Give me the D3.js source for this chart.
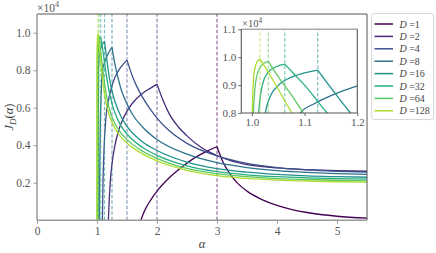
<!DOCTYPE html>
<html><head><meta charset="utf-8">
<script src="https://cdn.jsdelivr.net/npm/d3@7"></script>
<style>
html,body{margin:0;padding:0;background:#fff;}
svg text{font-family:"Liberation Serif","DejaVu Serif",serif;}
</style></head>
<body><svg id="c" width="436" height="253"></svg>
<script>
// ---- data (values ×10^4) ----
const Ds = [1, 2, 4, 8, 16, 32, 64, 128];
const peakAlpha = [3, 2, 1.5, 1.25, 1.125, 1.0625, 1.03125, 1.015625];
const xTicks = [0, 1, 2, 3, 4, 5];
const yTicks = [0.2, 0.4, 0.6, 0.8, 1.0];
const insetXTicks = [1.0, 1.1, 1.2];
const insetYTicks = [0.8, 0.9, 1.0, 1.1];

const J1 = [[1.73,0],[1.76,0.025],[1.8,0.055],[1.9,0.11],[2.0,0.155],[2.2,0.225],[2.4,0.28],[2.6,0.327],[2.8,0.363],[3.0,0.392],
  [3.1,0.31],[3.2,0.255],[3.35,0.195],[3.5,0.155],[3.75,0.11],[4.0,0.079],[4.25,0.057],[4.5,0.041],[5.0,0.021],[5.5,0.011]];
const J2 = [[1.19,0],[1.2,0.08],[1.22,0.2],[1.25,0.3],[1.3,0.4],[1.35,0.468],[1.4,0.515],[1.5,0.582],[1.6,0.628],[1.75,0.675],[1.9,0.706],[2.0,0.726],
  [2.1,0.64],[2.2,0.57],[2.35,0.5],[2.5,0.45],[2.75,0.385],[3.0,0.345],[3.25,0.315],[3.5,0.297],[4.0,0.279],[4.5,0.27],[5.0,0.264],[5.5,0.261]];
const J4 = [[1.09,0],[1.1,0.2],[1.12,0.4],[1.15,0.55],[1.2,0.655],[1.25,0.718],[1.3,0.762],[1.4,0.818],[1.5,0.854],
  [1.6,0.76],[1.7,0.69],[1.85,0.61],[2.0,0.545],[2.2,0.478],[2.5,0.41],[3.0,0.343],[3.5,0.303],[4.0,0.281],[4.5,0.268],[5.0,0.261],[5.5,0.257]];
const J8 = [[1.04,0],[1.045,0.25],[1.055,0.5],[1.07,0.68],[1.092,0.8],[1.12,0.835],[1.15,0.862],[1.2,0.897],[1.25,0.922],
  [1.3,0.83],[1.35,0.76],[1.4,0.70],[1.5,0.62],[1.6,0.56],[1.75,0.50],[2.0,0.43],[2.5,0.352],[3.0,0.307],[3.5,0.281],[4.0,0.265],[4.5,0.255],[5.0,0.248],[5.5,0.244]];
const J16 = [[1.018,0],[1.02,0.4],[1.023,0.65],[1.0255,0.8],[1.035,0.86],[1.05,0.898],[1.08,0.932],[1.1,0.944],[1.125,0.954],
  [1.15,0.89],[1.187,0.80],[1.2,0.772],[1.25,0.69],[1.3,0.632],[1.4,0.553],[1.5,0.50],[1.75,0.42],[2.0,0.372],[2.5,0.31],[3.0,0.275],[3.5,0.256],[4.0,0.244],[4.5,0.236],[5.0,0.232],[5.5,0.229]];
const J32 = [[1.008,0],[1.01,0.5],[1.013,0.8],[1.02,0.9],[1.03,0.944],[1.045,0.965],[1.0625,0.975],
  [1.08,0.94],[1.1,0.9],[1.143,0.80],[1.17,0.745],[1.2,0.69],[1.25,0.622],[1.3,0.572],[1.4,0.503],[1.5,0.46],[1.75,0.39],[2.0,0.346],[2.5,0.29],[3.0,0.259],[3.5,0.242],[4.0,0.232],[4.5,0.226],[5.0,0.222],[5.5,0.219]];
const J64 = [[1.001,0],[1.002,0.5],[1.003,0.8],[1.008,0.92],[1.015,0.962],[1.023,0.978],[1.03125,0.985],
  [1.05,0.93],[1.075,0.865],[1.098,0.80],[1.13,0.72],[1.17,0.645],[1.2,0.60],[1.3,0.515],[1.4,0.465],[1.5,0.43],[1.75,0.37],[2.0,0.33],[2.5,0.276],[3.0,0.248],[3.5,0.232],[4.0,0.222],[4.5,0.217],[5.0,0.213],[5.5,0.21]];
const J128 = [[1.0,0],[1.0003,0.5],[1.0008,0.8],[1.004,0.94],[1.008,0.975],[1.012,0.988],[1.015625,0.993],
  [1.03,0.95],[1.05,0.885],[1.076,0.80],[1.1,0.73],[1.15,0.63],[1.2,0.565],[1.3,0.49],[1.4,0.443],[1.5,0.41],[1.75,0.355],[2.0,0.316],[2.5,0.266],[3.0,0.238],[3.5,0.223],[4.0,0.214],[4.5,0.209],[5.0,0.205],[5.5,0.203]];
const curves = [J1, J2, J4, J8, J16, J32, J64, J128];

// ---- layout ----
const svg = d3.select("#c");
const M = {l:37, r:367, t:14, b:220.2};
const x = d3.scaleLinear().domain([0, 5.5]).range([M.l, M.r]);
const y = d3.scaleLinear().domain([0, 1.1]).range([M.b, M.t]);
const I = {l:241.3, r:357.3, t:29.3, b:113};
const xi = d3.scaleLinear().domain([0.98, 1.2]).range([I.l, I.r]);
const yi = d3.scaleLinear().domain([0.8, 1.1]).range([I.b, I.t]);
const color = i => d3.interpolateViridis(i / 8);
const tickCol = "#555", lblCol = "#444";

const defs = svg.append("defs");
defs.append("clipPath").attr("id","cm").append("rect").attr("x",M.l).attr("y",M.t).attr("width",M.r-M.l).attr("height",M.b-M.t);
defs.append("clipPath").attr("id","ci").append("rect").attr("x",I.l).attr("y",I.t).attr("width",I.r-I.l).attr("height",I.b-I.t);

function drawSeries(g, sx, sy, y0, y1) {
  curves.forEach((pts, i) => {
    const k = pts.findIndex(p => p[0] === peakAlpha[i]);
    const line = d3.line().x(p => sx(p[0])).y(p => sy(p[1])).curve(d3.curveMonotoneX);
    [pts.slice(0, k + 1), pts.slice(k)].forEach(seg => {
      g.append("path").attr("d", line(seg)).attr("fill","none")
        .attr("stroke", color(i)).attr("stroke-width", 1.3);
    });
    g.append("line").attr("x1", sx(peakAlpha[i])).attr("x2", sx(peakAlpha[i]))
      .attr("y1", y0).attr("y2", y1).attr("stroke", color(i)).attr("stroke-opacity", 0.6)
      .attr("stroke-width", 1.2).attr("stroke-dasharray", "3.5,2");
  });
}

// main series
const gm = svg.append("g").attr("clip-path","url(#cm)");
drawSeries(gm, x, y, M.b, M.t);

// main axes
const ax = svg.append("g").attr("transform",`translate(0,${M.b})`)
  .call(d3.axisBottom(x).tickValues(xTicks).tickSize(3.5).tickPadding(3).tickFormat(d3.format("d")));
const ay = svg.append("g").attr("transform",`translate(${M.l},0)`)
  .call(d3.axisLeft(y).tickValues(yTicks).tickSize(3.5).tickPadding(3).tickFormat(d3.format(".1f")));
[ax, ay].forEach(a => {
  a.select(".domain").remove();
  a.selectAll(".tick line").attr("stroke", "#999").attr("stroke-width", 1);
  a.selectAll(".tick text").attr("fill", tickCol).style("font-size","11.5px").style("font-family",'"Liberation Serif",serif');
});
// spines
svg.append("line").attr("x1",M.l).attr("x2",M.r).attr("y1",M.t).attr("y2",M.t).attr("stroke","#555").attr("stroke-width",1);
svg.append("line").attr("x1",M.r).attr("x2",M.r).attr("y1",M.t).attr("y2",M.b).attr("stroke","#555").attr("stroke-width",1);
svg.append("line").attr("x1",M.l).attr("x2",M.l).attr("y1",M.t).attr("y2",M.b).attr("stroke","#999").attr("stroke-width",1.5);
svg.append("line").attr("x1",M.l).attr("x2",M.r).attr("y1",M.b).attr("y2",M.b).attr("stroke","#999").attr("stroke-width",1.5);

// multiplier labels
function mult(g, xx, yy, fs) {
  const t = g.append("text").attr("x",xx).attr("y",yy).attr("fill",tickCol).style("font-size",fs+"px");
  t.append("tspan").text("×10");
  t.append("tspan").attr("dy",-fs*0.4).style("font-size",(fs*0.7)+"px").text("4");
}
mult(svg, 37, 11.5, 11.5);

// axis labels
svg.append("text").attr("x", (M.l+M.r)/2).attr("y", 248).attr("text-anchor","middle")
  .attr("fill", lblCol).style("font-size","12.5px").style("font-style","italic").text("α");
const yl = svg.append("text").attr("transform","translate(13,117) rotate(-90)").attr("text-anchor","middle")
  .attr("fill", lblCol).style("font-size","12.5px");
yl.append("tspan").style("font-style","italic").text("J");
yl.append("tspan").attr("dy",3).style("font-size","9px").style("font-style","italic").text("D");
yl.append("tspan").attr("dy",-3).text("(");
yl.append("tspan").style("font-style","italic").text("α");
yl.append("tspan").text(")");

// ---- inset ----
svg.append("rect").attr("x",I.l).attr("y",I.t).attr("width",I.r-I.l).attr("height",I.b-I.t).attr("fill","#fff");
const gi = svg.append("g").attr("clip-path","url(#ci)");
drawSeries(gi, xi, yi, I.b, I.t);
const ixa = svg.append("g").attr("transform",`translate(0,${I.b})`)
  .call(d3.axisBottom(xi).tickValues(insetXTicks).tickSize(3).tickPadding(2).tickFormat(d3.format(".1f")));
const iya = svg.append("g").attr("transform",`translate(${I.l},0)`)
  .call(d3.axisLeft(yi).tickValues(insetYTicks).tickSize(3).tickPadding(2).tickFormat(d3.format(".1f")));
[ixa, iya].forEach(a => {
  a.select(".domain").remove();
  a.selectAll(".tick line").attr("stroke", "#666");
  a.selectAll(".tick text").attr("fill", tickCol).style("font-size","11px").style("font-family",'"Liberation Serif",serif');
});
svg.append("line").attr("x1",I.l).attr("x2",I.r).attr("y1",I.t).attr("y2",I.t).attr("stroke","#aaa").attr("stroke-width",1.6);
svg.append("line").attr("x1",I.l).attr("x2",I.l).attr("y1",I.t).attr("y2",I.b).attr("stroke","#555").attr("stroke-width",1.1);
svg.append("line").attr("x1",I.r).attr("x2",I.r).attr("y1",I.t).attr("y2",I.b).attr("stroke","#555").attr("stroke-width",1.1);
svg.append("line").attr("x1",I.l).attr("x2",I.r).attr("y1",I.b).attr("y2",I.b).attr("stroke","#555").attr("stroke-width",1.1);
mult(svg, 242, 27, 10.5);

// ---- legend ----
const lg = svg.append("g");
lg.append("rect").attr("x",371.7).attr("y",13.5).attr("width",62).attr("height",106).attr("rx",2)
  .attr("fill","#fff").attr("stroke","#ccc").attr("stroke-width",0.8);
Ds.forEach((d, i) => {
  const yy = 24 + i * 12.4;
  lg.append("line").attr("x1",374.5).attr("x2",393).attr("y1",yy).attr("y2",yy)
    .attr("stroke", color(i)).attr("stroke-width",1.5);
  const t = lg.append("text").attr("x",399.5).attr("y",yy+3.5).attr("fill",lblCol).style("font-size","10px");
  t.append("tspan").style("font-style","italic").text("D");
  t.append("tspan").text(" =" + d);
});
</script></body></html>
